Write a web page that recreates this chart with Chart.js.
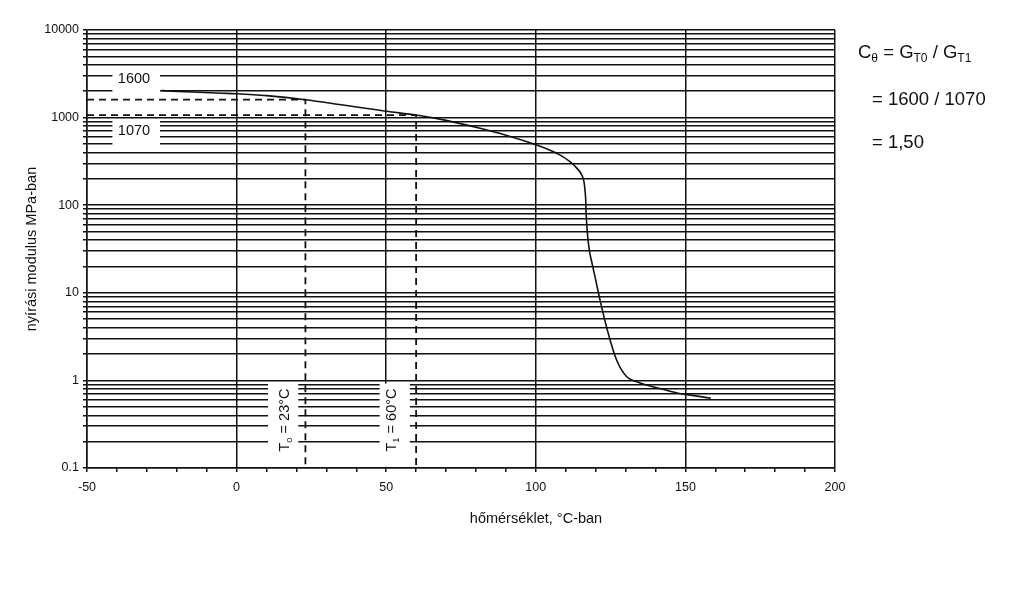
<!DOCTYPE html>
<html><head><meta charset="utf-8">
<script src="https://cdn.jsdelivr.net/npm/chart.js@4/dist/chart.umd.min.js"></script>
<style>html,body{margin:0;padding:0;background:#fff;}#wrap{width:1024px;height:600px;}</style>
</head><body><div id="wrap"><canvas id="c" width="1024" height="600"></canvas></div>
<script>
// ---- data ----
const curveTemps   = [-25, -15, -5, 0, 10, 23, 35, 50, 60, 70, 81, 90, 100, 108, 111.4, 113.7, 115.34, 116.11, 116.44, 116.68, 116.78, 117.01, 117.35, 117.88, 118.68, 119.78, 121.45, 124.2, 127, 130.4, 133.5, 137, 142, 148, 153, 158.5];
const curveModulus = [2030, 1960, 1900, 1870, 1780, 1600, 1400, 1180, 1070, 930, 760, 630, 490, 375, 314, 265, 221, 185, 149, 115, 88, 62, 43.7, 30.8, 22.6, 15.3, 8.3, 3.45, 1.71, 1.1, 0.97, 0.885, 0.8, 0.71, 0.67, 0.625];
const refTemps   = [23, 60];
const refModulus = [1600, 1070];
const refTempLabels = [['T', 'o', ' = 23°C'], ['T', '1', ' = 60°C']];
const refModLabels  = ['1600', '1070'];
const xMin = -50, xMax = 200, xStep = 10, xMajor = 50;
const yDecades = [0.1, 1, 10, 100, 1000, 10000];
const yMinorMult = [1, 2, 3, 4, 5, 6, 7, 8, 9];
const yTickLabels = ['0.1', '1', '10', '100', '1000', '10000'];
const xTitle = 'hőmérséklet, °C-ban';
const yTitle = 'nyírási modulus MPa-ban';
const formulaLines = [
  [['C',0],['θ',1],[' = G',0],['T0',1],[' / G',0],['T1',1]],
  [['= 1600 / 1070',0]],
  [['= 1,50',0]]
];

// ---- layout (annotation placement in data units) ----
const FONT = "'Liberation Sans', Arial, sans-serif";
const INK = '#111';
const modLabelPos = [{x:-34.3, y:2760}, {x:-34.3, y:703}];
const modLabelBox = [{x0:-41.5, x1:-25.6, yTop:3700, yBot:1820}, {x0:-41.5, x1:-25.6, yTop:950, yBot:455}];
const tempLabelPos = [{x:16.2, y:0.353}, {x:51.9, y:0.353}];
const tempLabelBox = [{x0:10.5, x1:20.6, yTop:0.92, yBot:0.103}, {x0:47.8, x1:57.9, yTop:0.92, yBot:0.103}];

const yTickValues = [];
yDecades.slice(0, -1).forEach(d => yMinorMult.forEach(m => yTickValues.push(d * m)));
yTickValues.push(yDecades[yDecades.length - 1]);

const curveData = curveTemps.map((t, i) => ({x: t, y: curveModulus[i]}));
const refSets = refTemps.map((t, i) => ({
  data: [{x: xMin, y: refModulus[i]}, {x: t, y: refModulus[i]}, {x: t, y: yDecades[0]}],
  borderColor: INK, borderWidth: 1.8, borderDash: [7, 5], pointRadius: 0, tension: 0, fill: false
}));

function drawRich(ctx, parts, x, y, size, align) {
  const widths = parts.map(p => { ctx.font = (p[1] ? size * 0.65 : size) + 'px ' + FONT; return ctx.measureText(p[0]).width; });
  const total = widths.reduce((a, b) => a + b, 0);
  let cx = align === 'center' ? x - total / 2 : x;
  ctx.textAlign = 'left'; ctx.textBaseline = 'middle';
  parts.forEach((p, i) => {
    ctx.font = (p[1] ? size * 0.65 : size) + 'px ' + FONT;
    ctx.fillText(p[0], cx, p[1] ? y + size * 0.3 : y);
    cx += widths[i];
  });
}

const annot = {
  id: 'annot',
  beforeDatasetsDraw(chart) {
    const {ctx, scales: {x, y}} = chart;
    ctx.save(); ctx.fillStyle = '#fff';
    [...modLabelBox, ...tempLabelBox].forEach(b => {
      const x0 = x.getPixelForValue(b.x0), x1 = x.getPixelForValue(b.x1);
      const y0 = y.getPixelForValue(b.yTop), y1 = y.getPixelForValue(b.yBot);
      ctx.fillRect(x0, y0, x1 - x0, y1 - y0);
    });
    ctx.restore();
  },
  afterDatasetsDraw(chart) {
    const {ctx, chartArea: a, scales: {x, y}} = chart;
    ctx.save(); ctx.fillStyle = INK;
    ctx.font = '14.5px ' + FONT; ctx.textAlign = 'center'; ctx.textBaseline = 'middle';
    refModLabels.forEach((s, i) => ctx.fillText(s, x.getPixelForValue(modLabelPos[i].x), y.getPixelForValue(modLabelPos[i].y)));
    refTempLabels.forEach((p, i) => {
      ctx.save();
      ctx.translate(x.getPixelForValue(tempLabelPos[i].x), y.getPixelForValue(tempLabelPos[i].y));
      ctx.rotate(-Math.PI / 2);
      drawRich(ctx, [[p[0],0],[p[1],1],[p[2],0]], 0, 0, 14.5, 'center');
      ctx.restore();
    });
    // axis titles
    ctx.font = '14.5px ' + FONT; ctx.textAlign = 'center'; ctx.textBaseline = 'middle';
    ctx.fillText(xTitle, (a.left + a.right) / 2 + 75, a.bottom + 51);
    ctx.save();
    ctx.translate(a.left - 55, (a.top + a.bottom) / 2);
    ctx.rotate(-Math.PI / 2);
    ctx.fillText(yTitle, 0, 0);
    ctx.restore();
    // formula
    drawRich(ctx, formulaLines[0], a.right + 23, a.top + 23, 18.5, 'left');
    drawRich(ctx, formulaLines[1], a.right + 37, a.top + 70, 18.5, 'left');
    drawRich(ctx, formulaLines[2], a.right + 37, a.top + 113, 18.5, 'left');
    ctx.restore();
  }
};

new Chart(document.getElementById('c'), {
  type: 'line',
  data: {
    datasets: [
      {data: curveData, borderColor: INK, borderWidth: 1.6, pointRadius: 0, cubicInterpolationMode: 'monotone', fill: false},
      ...refSets
    ]
  },
  options: {
    responsive: false, animation: false, devicePixelRatio: 1,
    layout: {padding: {left: 0, right: 189, top: 30, bottom: 0}},
    plugins: {legend: {display: false}, tooltip: {enabled: false}},
    scales: {
      x: {
        type: 'linear', min: xMin, max: xMax,
        ticks: {stepSize: xStep, autoSkip: false, maxRotation: 0, color: INK, padding: 8,
          font: {family: FONT, size: 12.5},
          callback: v => (v % xMajor === 0 ? String(v) : '')},
        grid: {color: c => (c.tick && c.tick.value % xMajor === 0 ? INK : 'rgba(0,0,0,0)'), lineWidth: 1.5,
          tickColor: INK, tickLength: 4, drawTicks: true},
        border: {display: true, color: INK, width: 1.5},
        afterFit: s => { s.height = 132; }
      },
      y: {
        type: 'logarithmic', min: yDecades[0], max: yDecades[yDecades.length - 1],
        afterBuildTicks: s => { s.ticks = yTickValues.map(v => ({value: v})); },
        ticks: {autoSkip: false, color: INK, padding: 4, font: {family: FONT, size: 12.5},
          callback: v => { const i = yDecades.findIndex(d => Math.abs(d - v) < d * 1e-6); return i >= 0 ? yTickLabels[i] : ''; }},
        grid: {color: INK, lineWidth: 1.5, tickColor: INK, tickLength: 4},
        border: {display: true, color: INK, width: 1.5},
        afterFit: s => { s.width = 87; }
      }
    }
  },
  plugins: [annot]
});
</script></body></html>
